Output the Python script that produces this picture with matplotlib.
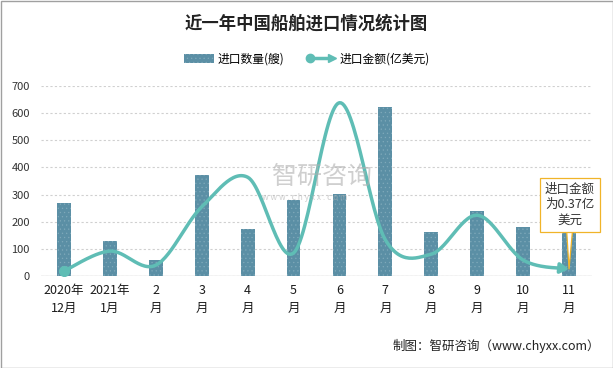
import numpy as np
import matplotlib
matplotlib.use("Agg")
import matplotlib.pyplot as plt
from matplotlib.lines import Line2D
from matplotlib.patches import Rectangle, Patch
from matplotlib.legend_handler import HandlerBase

plt.rcParams['font.family'] = ['Noto Sans CJK SC', 'DejaVu Sans']
plt.rcParams['hatch.linewidth'] = 0.4

categories = ["2020年\n12月", "2021年\n1月", "2\n月", "3\n月", "4\n月", "5\n月",
              "6\n月", "7\n月", "8\n月", "9\n月", "10\n月", "11\n月"]
quantity = [270, 130, 60, 372, 174, 281, 302, 622, 162, 239, 180, 158]
amount = [0.26, 1.31, 0.57, 3.64, 5.2, 1.21, 9.12, 1.9, 1.15, 3.2, 0.84, 0.37]
yticks = [0, 100, 200, 300, 400, 500, 600, 700]

BAR = '#5b8fa5'
LINE = '#5fbdb5'

fig = plt.figure(figsize=(6.13, 3.68), dpi=100)
ax = fig.add_axes([41/613, 1-276/368, (592-41)/613, (276-86)/368])
x = np.arange(len(categories))
ax.bar(x, quantity, width=0.3, color=BAR, hatch='....', edgecolor='#7fa9ba', linewidth=0, zorder=2)
ax.set_xlim(-0.5, len(categories)-0.5)
ax.set_ylim(0, 700)
ax.set_yticks(yticks)
ax.set_yticklabels([str(v) for v in yticks], fontsize=8, color='#333333')
ax.set_xticks(x)
ax.set_xticklabels(categories, fontsize=9, color='#1a1a1a', linespacing=1.5)
ax.tick_params(length=0, pad=6)
ax.tick_params(axis='y', pad=8)
for s in ax.spines.values():
    s.set_visible(False)
ax.grid(axis='y', color='#d0d0d0', linestyle=(0, (2, 2)), linewidth=0.8, zorder=0)
ax.axhline(0, color='#d0d0d0', linewidth=1, zorder=1)

ax2 = ax.twinx()
ax2.set_ylim(0, 10)
ax2.set_yticks([])
for s in ax2.spines.values():
    s.set_visible(False)

# Excel-like smoothed line (Bezier through points)
px = x.astype(float)
py = np.array(amount, dtype=float)
xs, ys = [], []
n = len(px)
t = np.linspace(0, 1, 30)
for i in range(n-1):
    p0 = np.array([px[max(i-1, 0)], py[max(i-1, 0)]])
    p1 = np.array([px[i], py[i]])
    p2 = np.array([px[i+1], py[i+1]])
    p3 = np.array([px[min(i+2, n-1)], py[min(i+2, n-1)]])
    c1 = p1 + (p2 - p0) / 6
    c2 = p2 - (p3 - p1) / 6
    b = ((1-t)**3)[:, None]*p1 + (3*(1-t)**2*t)[:, None]*c1 + (3*(1-t)*t**2)[:, None]*c2 + (t**3)[:, None]*p2
    xs.extend(b[:, 0]); ys.extend(b[:, 1])
ax2.plot(xs[:-4], ys[:-4], color=LINE, linewidth=2.5, solid_capstyle='round', zorder=3)
ax2.plot([px[0]], [py[0]], 'o', color=LINE, markersize=7, zorder=4)
ax2.annotate('', xy=(px[-1], py[-1]), xytext=(xs[-8], ys[-8]),
             arrowprops=dict(arrowstyle='-|>,head_length=0.5,head_width=0.3', color=LINE, lw=2.5,
                             shrinkA=0, shrinkB=0), zorder=4)

# callout
ax2.annotate('进口金额\n为0.37亿\n美元', xy=(px[-1], py[-1]), xytext=(11.02, 2.6),
             ha='center', va='bottom', fontsize=9, color='#333333', linespacing=1.25,
             bbox=dict(boxstyle='square,pad=0.4', fc='white', ec='#f0b429', lw=0.9),
             arrowprops=dict(arrowstyle='wedge,tail_width=0.45', fc='white', ec='#f0b429', lw=0.9,
                             shrinkA=0, shrinkB=0),
             zorder=6)

# watermark
fig.text(322/613, 1-177/368, '智研咨询', fontsize=18, color='#b0b0b0', alpha=0.6,
         ha='center', va='center', zorder=1)
fig.text(305/613, 1-197/368, 'w w w . c h y x x . c o m', fontsize=6, color='#b0b0b0', alpha=0.6,
         ha='center', va='center')

# title
fig.text(0.5, 1-24/368, '近一年中国船舶进口情况统计图', fontsize=12.5, fontweight='bold',
         ha='center', va='center', color='#222222')


class LineArrowHandler(HandlerBase):
    def create_artists(self, legend, orig_handle, xdescent, ydescent, width, height, fontsize, trans):
        y = height / 2 - ydescent
        l = Line2D([-xdescent + 3, width - xdescent - 4], [y, y], color=LINE, lw=2.5, transform=trans)
        m = Line2D([-xdescent + 3], [y], marker='o', color=LINE, markersize=6, transform=trans)
        a = Line2D([width - xdescent - 3], [y], marker='>', color=LINE, markersize=6, transform=trans)
        return [l, m, a]


handles = [Patch(facecolor=BAR, hatch='....', edgecolor='#7fa9ba', linewidth=0), Line2D([], [])]
fig.legend(handles, ['进口数量(艘)', '进口金额(亿美元)'], loc='center', bbox_to_anchor=(0.5, 1-59/368),
           ncol=2, frameon=False, fontsize=8.5, handlelength=2.6, handleheight=0.7, columnspacing=1.8,
           handletextpad=0.25, handler_map={Line2D: LineArrowHandler()})

fig.text(600/613, 1-346/368, '制图：智研咨询（www.chyxx.com）', fontsize=9, ha='right', va='center',
         color='#222222')

fig.patches.append(Rectangle((0.5/613, 0.5/368), 1-1/613, 1-1/368, transform=fig.transFigure,
                             fill=False, edgecolor='#a0a0a0', linewidth=1))

fig.savefig('out.png', dpi=100)
